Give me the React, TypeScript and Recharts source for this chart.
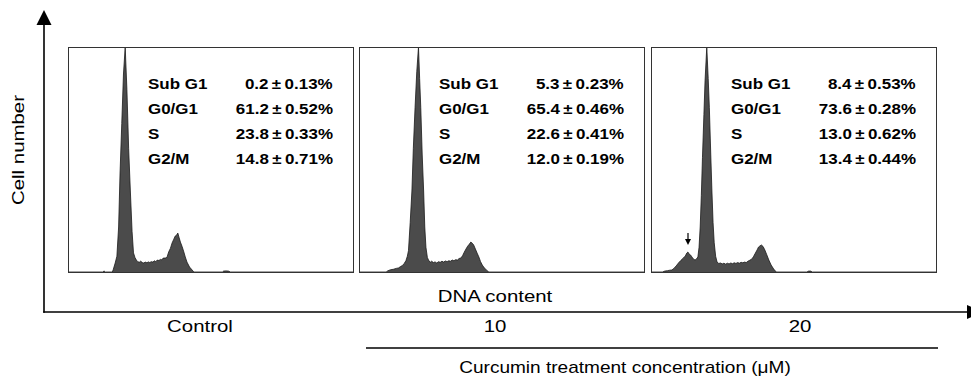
import React from 'react'
import { Area, AreaChart, XAxis, YAxis } from 'recharts'

// DNA content histograms, channel 0-1000, counts as % of G0/G1 peak
const controlHist: [number, number][] = [
  [0, 0], [122, 0], [126, 0.5], [130, 0], [155, 0], [158, 1], [165, 4], [171, 7], [177, 20],
  [182, 44], [188, 66], [194, 88], [200, 100], [206, 81], [212, 55], [218, 36], [224, 18],
  [229, 8.5], [234, 6.5], [239, 5.3], [244, 4.6], [249, 4.3], [254, 4.8], [260, 4.2], [265, 4.0],
  [270, 4.4], [276, 4.1], [281, 4.5], [286, 4.2], [291, 4.6], [297, 4.4], [302, 5.0], [307, 4.6],
  [312, 5.3], [318, 5.1], [323, 5.6], [328, 5.4], [333, 6.2], [340, 6.2], [346, 6.5], [352, 8.9],
  [358, 10.5], [364, 12.9], [370, 14.6], [375, 16], [380, 16.4], [384, 17.3], [388, 15.5],
  [393, 13.3], [399, 11.3], [405, 8.9], [410, 6.7], [416, 4.4], [425, 2.2], [434, 0.9], [440, 0],
  [540, 0], [544, 0.4], [552, 0.5], [561, 0.4], [568, 0], [1000, 0],
]

const cur10Hist: [number, number][] = [
  [0, 0], [95, 0], [100, 0.5], [110, 1.0], [120, 1.2], [130, 1.6], [138, 1.8], [145, 2.4],
  [152, 2.9], [158, 3.8], [164, 5], [169, 7], [173, 9.5], [179, 22], [185, 36], [190, 55],
  [196, 73], [202, 89], [208, 100], [212, 86], [216, 73], [221, 52], [226, 36], [230, 20],
  [234, 11], [239, 6.5], [243, 5.3], [249, 4.3], [254, 4.8], [260, 4.2], [266, 4.5], [272, 4.0],
  [278, 4.6], [284, 4.3], [290, 4.8], [296, 4.4], [302, 4.9], [308, 4.6], [314, 5.0], [320, 4.8],
  [326, 5.3], [332, 5.0], [338, 5.5], [344, 5.3], [350, 6.0], [356, 6.2], [362, 7.2], [368, 8.8],
  [374, 10.2], [380, 11.5], [386, 12.4], [391, 13.3], [396, 12.8], [401, 12], [407, 10.2],
  [413, 8.4], [419, 6.7], [425, 4.6], [431, 3.1], [436, 2.2], [445, 0.9], [454, 0], [1000, 0],
]

const cur20Hist: [number, number][] = [
  [0, 0], [40, 0], [48, 0.4], [58, 0.6], [66, 0.8], [73, 0.9], [80, 1.6], [88, 2.7], [96, 4],
  [104, 5.1], [113, 6.2], [120, 7.1], [125, 8.4], [129, 8.9], [133, 8.0], [138, 7.6], [143, 6.7],
  [148, 5.8], [154, 5.3], [159, 5.8], [164, 6.7], [168, 11], [172, 20], [176, 34], [180, 51],
  [185, 70], [189, 85], [195, 100], [200, 86], [204, 73], [209, 52], [213, 36], [217, 22],
  [221, 13], [226, 7], [231, 4.4], [237, 3.8], [243, 4.0], [249, 3.6], [255, 3.9], [261, 3.5],
  [267, 3.9], [273, 3.6], [279, 4.0], [285, 3.7], [291, 4.1], [297, 3.8], [303, 4.2], [309, 3.9],
  [315, 4.3], [321, 4.1], [327, 4.4], [333, 4.2], [339, 4.8], [345, 5.2], [353, 5.8], [359, 7.0],
  [365, 8.4], [371, 9.8], [376, 11.1], [381, 11.6], [386, 12], [392, 11.3], [398, 9.8],
  [405, 7.6], [412, 5.3], [420, 3.1], [429, 1.3], [438, 0], [545, 0], [551, 0.4], [558, 0.4],
  [564, 0], [1000, 0],
]

const phases = ['Sub G1', 'G0/G1', 'S', 'G2/M']
const doses = ['Control', '10', '20']

const controlMean = [0.2, 61.2, 23.8, 14.8]
const controlSd = [0.13, 0.52, 0.33, 0.71]
const cur10Mean = [5.3, 65.4, 22.6, 12.0]
const cur10Sd = [0.23, 0.46, 0.41, 0.19]
const cur20Mean = [8.4, 73.6, 13.0, 13.4]
const cur20Sd = [0.53, 0.28, 0.62, 0.44]

const FONT = 'Arial, "Liberation Sans", sans-serif'

const panels = [
  { hist: controlHist, mean: controlMean, sd: controlSd, left: 68 },
  { hist: cur10Hist, mean: cur10Mean, sd: cur10Sd, left: 359 },
  { hist: cur20Hist, mean: cur20Mean, sd: cur20Sd, left: 651 },
]

const PANEL_TOP = 47
const PANEL_W = 286
const PANEL_H = 225

function Txt({
  x, y, children, size = 17, bold = false, align = 'center', sx = 1.2, rotate = false,
}: {
  x: number; y: number; children: React.ReactNode; size?: number; bold?: boolean
  align?: 'left' | 'right' | 'center'; sx?: number; rotate?: boolean
}) {
  const base: React.CSSProperties = {
    position: 'absolute',
    top: y,
    fontFamily: FONT,
    fontSize: size,
    fontWeight: bold ? 'bold' : 'normal',
    whiteSpace: 'nowrap',
    lineHeight: 1,
    color: '#000',
  }
  if (rotate) {
    return (
      <div style={{ ...base, left: x, transform: `translate(-50%, -50%) rotate(-90deg) scaleX(${sx})` }}>
        {children}
      </div>
    )
  }
  if (align === 'left') {
    return (
      <div style={{ ...base, left: x, transformOrigin: 'left center', transform: `translateY(-50%) scaleX(${sx})` }}>
        {children}
      </div>
    )
  }
  if (align === 'right') {
    return (
      <div style={{ ...base, right: 971 - x, transformOrigin: 'right center', transform: `translateY(-50%) scaleX(${sx})` }}>
        {children}
      </div>
    )
  }
  return (
    <div style={{ ...base, left: x, transform: `translate(-50%, -50%) scaleX(${sx})` }}>
      {children}
    </div>
  )
}

function Panel({ hist, mean, sd, left }: (typeof panels)[number]) {
  const rows = hist.map(([ch, count]) => ({ ch, count }))
  return (
    <>
      <div style={{ position: 'absolute', left, top: PANEL_TOP }}>
        <AreaChart width={PANEL_W} height={PANEL_H} data={rows} margin={{ top: 0, right: 0, bottom: 0, left: 0 }}>
          <XAxis dataKey="ch" type="number" domain={[0, 1000]} hide />
          <YAxis type="number" domain={[0, 100]} hide allowDataOverflow />
          <Area
            type="linear"
            dataKey="count"
            stroke="#1a1a1a"
            strokeWidth={0.8}
            fill="#4b4b4b"
            fillOpacity={1}
            isAnimationActive={false}
          />
        </AreaChart>
      </div>
      <div
        style={{
          position: 'absolute', left, top: PANEL_TOP, width: PANEL_W, height: PANEL_H + 1,
          boxSizing: 'border-box', border: '1px solid #333', pointerEvents: 'none',
        }}
      />
      {phases.map((p, i) => (
        <React.Fragment key={p}>
          <Txt x={left + 80} y={83 + i * 25} size={15} bold align="left" sx={1.13}>{p}</Txt>
          <Txt x={left + 265} y={83 + i * 25} size={15} bold align="right" sx={1.13}>
            {mean[i].toFixed(1)}{'\u2009±\u2009'}{sd[i].toFixed(2)}%
          </Txt>
        </React.Fragment>
      ))}
    </>
  )
}

export default function App() {
  return (
    <div style={{ position: 'absolute', left: 0, top: 0, width: 971, height: 379, background: '#fff', overflow: 'hidden' }}>
      <svg width={971} height={379} style={{ position: 'absolute', left: 0, top: 0 }}>
        <line x1={44} y1={24} x2={44} y2={312.8} stroke="#000" strokeWidth={1.6} />
        <polygon points="44,10 36.5,25 51.5,25" fill="#000" />
        <line x1={43.2} y1={312} x2={968} y2={312} stroke="#000" strokeWidth={1.6} />
        <polygon points="967,305 967,319 982,312" fill="#000" />
        <line x1={366} y1={348} x2={938} y2={348} stroke="#000" strokeWidth={1.4} />
        <line x1={688} y1={233} x2={688} y2={240} stroke="#000" strokeWidth={1.2} />
        <polygon points="685,239 691,239 688,245" fill="#000" />
      </svg>
      {panels.map((p) => (
        <Panel key={p.left} {...p} />
      ))}
      <Txt x={18} y={150} rotate>Cell number</Txt>
      <Txt x={495} y={296}>DNA content</Txt>
      <Txt x={200} y={326}>{doses[0]}</Txt>
      <Txt x={495} y={326}>{doses[1]}</Txt>
      <Txt x={800} y={326}>{doses[2]}</Txt>
      <Txt x={625} y={367} sx={1.12}>Curcumin treatment concentration (μM)</Txt>
    </div>
  )
}
